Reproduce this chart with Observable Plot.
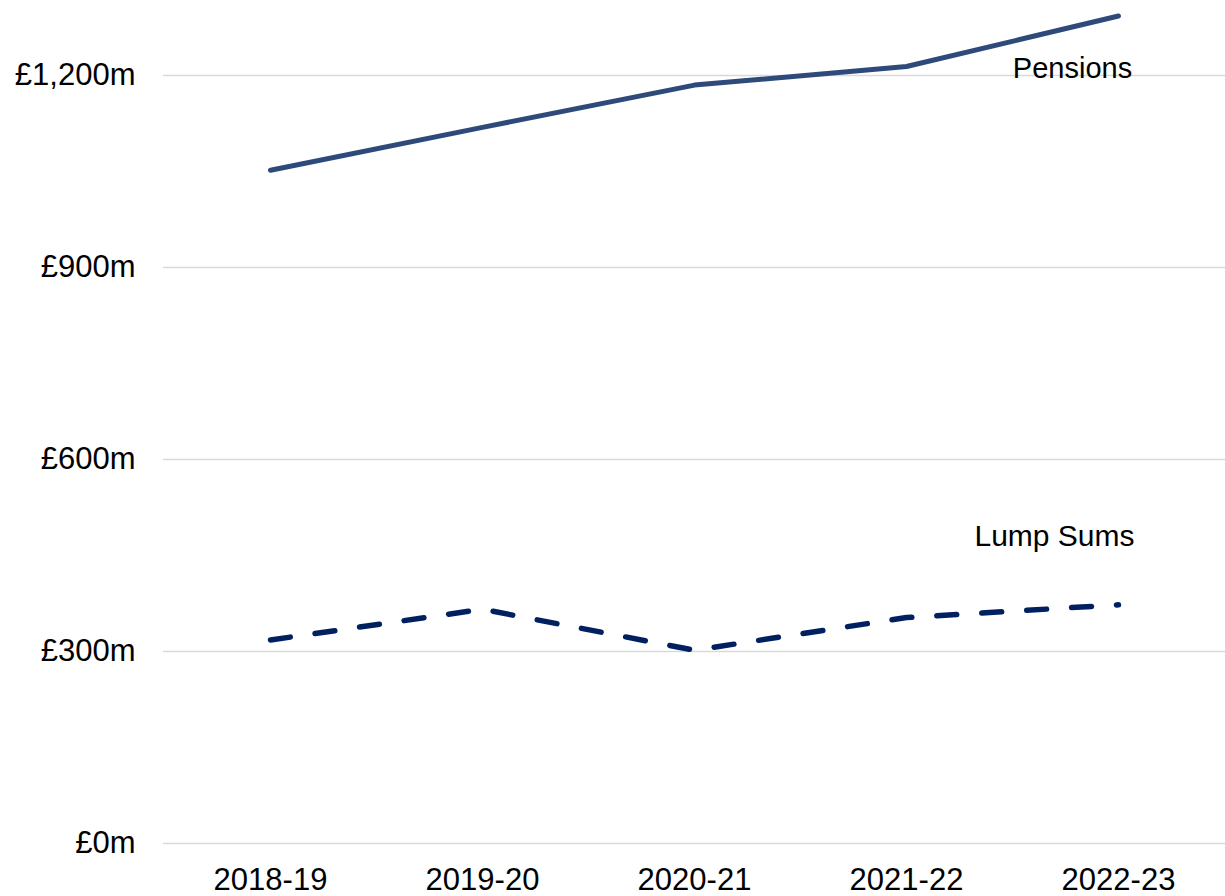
<!DOCTYPE html>
<html>
<head>
<meta charset="utf-8">
<script src="https://cdn.jsdelivr.net/npm/d3@7"></script>
<script src="https://cdn.jsdelivr.net/npm/@observablehq/plot@0.6"></script>
<style>
  html, body { margin: 0; padding: 0; background: #fff; }
  #chart { width: 1225px; height: 896px; }
</style>
</head>
<body>
<div id="chart"></div>
<script>
const years = ["2018-19", "2019-20", "2020-21", "2021-22", "2022-23"];
const pensions = [1052, 1119, 1185, 1214, 1293];
const lumpSums = [318, 366, 302, 353, 373];
const yTicks = [0, 300, 600, 900, 1200];
const yTickLabels = ["£0m", "£300m", "£600m", "£900m", "£1,200m"];
const seriesNames = ["Pensions", "Lump Sums"];
const labelYear = ["2022-23", "2022-23"];
const labelValue = [1211, 480];

const pensionData = years.map((y, i) => ({year: y, value: pensions[i]}));
const lumpData = years.map((y, i) => ({year: y, value: lumpSums[i]}));
const labels = seriesNames.map((n, i) => ({name: n, year: labelYear[i], value: labelValue[i]}));

const chart = Plot.plot({
  width: 1225,
  height: 896,
  marginLeft: 163,
  marginRight: 0,
  marginTop: 11,
  marginBottom: 53,
  style: {fontFamily: "'Liberation Sans', Arial, sans-serif", background: "#fff", color: "#000"},
  x: {type: "point", domain: years, padding: 0.5, label: null},
  y: {domain: [0, 1300], label: null},
  marks: [
    Plot.ruleY(yTicks, {stroke: "#d9d9d9", strokeWidth: 1.5}),
    Plot.axisY({ticks: yTicks, tickFormat: (d) => yTickLabels[yTicks.indexOf(d)], tickSize: 0, tickPadding: 28, fontSize: 31, label: null}),
    Plot.axisX({tickSize: 0, tickPadding: 24, fontSize: 31, label: null}),
    Plot.line(pensionData, {x: "year", y: "value", stroke: "#2E4A7A", strokeWidth: 5, strokeLinecap: "round", strokeLinejoin: "round"}),
    Plot.line(lumpData, {x: "year", y: "value", stroke: "#002060", strokeWidth: 5.5, strokeDasharray: "20,25", strokeLinecap: "round", strokeLinejoin: "round"}),
    Plot.text(labels.slice(0, 1), {x: "year", y: "value", text: "name", dx: -46, fontSize: 29, fill: "#000", textAnchor: "middle"}),
    Plot.text(labels.slice(1), {x: "year", y: "value", text: "name", dx: -64, fontSize: 30, fill: "#000", textAnchor: "middle"})
  ]
});
document.getElementById("chart").appendChild(chart);
</script>
</body>
</html>
